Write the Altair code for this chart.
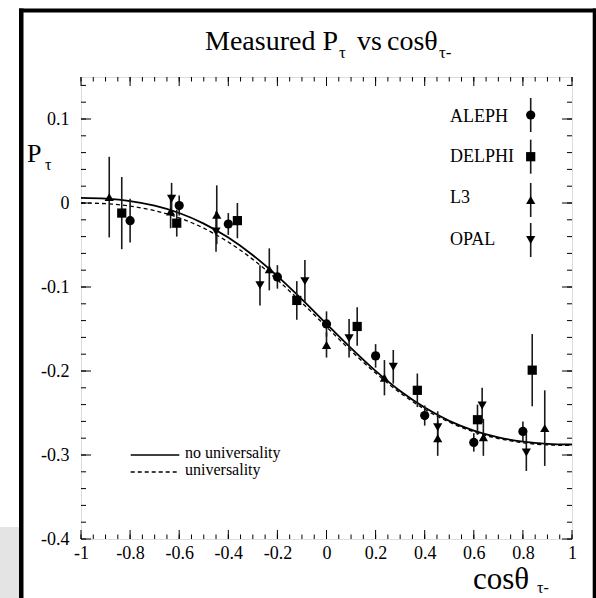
import altair as alt
import pandas as pd

# ---------------- data ----------------
experiments = ["ALEPH", "DELPHI", "L3", "OPAL"]
shapes = ["circle", "square", "triangle-up", "triangle-down"]

aleph_x = [-0.80, -0.60, -0.40, -0.20, 0.00, 0.20, 0.40, 0.60, 0.80]
aleph_y = [-0.021, -0.003, -0.025, -0.088, -0.144, -0.182, -0.253, -0.285, -0.272]
aleph_e = [0.026, 0.012, 0.013, 0.014, 0.015, 0.014, 0.012, 0.011, 0.012]

delphi_x = [-0.834, -0.610, -0.363, -0.121, 0.125, 0.370, 0.615, 0.838]
delphi_y = [-0.012, -0.024, -0.021, -0.116, -0.147, -0.223, -0.258, -0.199]
delphi_e = [0.043, 0.016, 0.021, 0.023, 0.023, 0.020, 0.018, 0.043]

l3_x = [-0.885, -0.635, -0.447, -0.233, 0.000, 0.236, 0.453, 0.639, 0.889]
l3_y = [0.007, -0.010, -0.014, -0.079, -0.169, -0.208, -0.280, -0.279, -0.268]
l3_e = [0.048, 0.020, 0.035, 0.025, 0.015, 0.021, 0.021, 0.022, 0.045]

opal_x = [-0.631, -0.450, -0.271, -0.088, 0.092, 0.272, 0.453, 0.634, 0.814]
opal_y = [0.005, -0.034, -0.098, -0.093, -0.161, -0.195, -0.267, -0.241, -0.297]
opal_e = [0.019, 0.024, 0.024, 0.025, 0.023, 0.020, 0.019, 0.021, 0.022]

curve_x = [-1.0, -0.9, -0.8, -0.7, -0.6, -0.5, -0.4, -0.3, -0.2, -0.1, 0.0,
           0.1, 0.2, 0.3, 0.4, 0.5, 0.6, 0.7, 0.8, 0.9, 1.0]
no_univ = [0.0060, 0.0051, 0.0023, -0.0032, -0.0119, -0.0245, -0.0412, -0.0622,
           -0.0870, -0.1147, -0.1439, -0.1728, -0.1999, -0.2238, -0.2435, -0.2593,
           -0.2709, -0.2790, -0.2841, -0.2867, -0.2875]
univ = [0.0000, -0.0008, -0.0037, -0.0091, -0.0177, -0.0300, -0.0465, -0.0671,
        -0.0915, -0.1188, -0.1475, -0.1760, -0.2025, -0.2260, -0.2455, -0.2610,
        -0.2724, -0.2804, -0.2854, -0.2880, -0.2887]

x_major = [-1, -0.8, -0.6, -0.4, -0.2, 0, 0.2, 0.4, 0.6, 0.8, 1]
y_major = [-0.4, -0.3, -0.2, -0.1, 0, 0.1]
x_minor = [round(-1 + 0.05 * i, 2) for i in range(41)]
y_minor = [round(-0.4 + 0.02 * i, 2) for i in range(28)]

# ---------------- tables ----------------
rows = []
for name, xs_, ys_, es_ in [("ALEPH", aleph_x, aleph_y, aleph_e),
                            ("DELPHI", delphi_x, delphi_y, delphi_e),
                            ("L3", l3_x, l3_y, l3_e),
                            ("OPAL", opal_x, opal_y, opal_e)]:
    for a, b, e in zip(xs_, ys_, es_):
        rows.append({"exp": name, "x": a, "y": b, "lo": b - e, "hi": b + e})
pts = pd.DataFrame(rows)
curves = pd.DataFrame({"c": curve_x, "nu": no_univ, "u": univ})
one = pd.DataFrame({"a": [0]})

W, H = 491, 462
SERIF = "Liberation Serif"
xs = alt.Scale(domain=[-1, 1], nice=False, zero=False)
ys = alt.Scale(domain=[-0.4, 0.15], nice=False, zero=False)
lab = "'' + round(datum.value*10)/10"
xaxis = alt.Axis(values=x_major, labelExpr=lab, tickSize=0, domain=False, grid=False,
                 labelPadding=5, labelFontSize=18, labelFont=SERIF, labelColor="black",
                 title=None, labelFlush=False)
yaxis = alt.Axis(values=y_major, labelExpr=lab, tickSize=0, domain=False, grid=False,
                 labelPadding=12, labelFontSize=18, labelFont=SERIF, labelColor="black",
                 title=None, labelFlush=False)


def X(f):
    return alt.X(f, scale=xs, axis=xaxis)


def Y(f):
    return alt.Y(f, scale=ys, axis=yaxis)


layers = []

# frame decorations (outer page frame)
def rect(x1, x2, y1, y2, color):
    return alt.Chart(one).mark_rect(color=color).encode(
        x=alt.value(x1), x2=alt.value(x2), y=alt.value(y1), y2=alt.value(y2))

layers += [
    rect(-81, -62, 450, 521, "#e4e4e4"),
    rect(-62, -57.5, -68.6, 521, "black"),
    rect(-62, 515, -68.6, -64.5, "black"),
    rect(511.7, 515, -68.6, 521, "black"),
]

# ticks (inward, all four sides)
xmaj = pd.DataFrame({"v": x_major})
xmin = pd.DataFrame({"v": x_minor})
ymaj = pd.DataFrame({"v": y_major})
ymin = pd.DataFrame({"v": y_minor})
tk = dict(color="black", strokeWidth=1)
layers += [
    alt.Chart(xmaj).mark_rule(**tk).encode(x=X("v:Q"), y=alt.value(H), y2=alt.value(H - 9)),
    alt.Chart(xmin).mark_rule(**tk).encode(x=X("v:Q"), y=alt.value(H), y2=alt.value(H - 4.5)),
    alt.Chart(xmaj).mark_rule(**tk).encode(x=X("v:Q"), y=alt.value(0), y2=alt.value(9)),
    alt.Chart(xmin).mark_rule(**tk).encode(x=X("v:Q"), y=alt.value(0), y2=alt.value(4.5)),
    alt.Chart(ymaj).mark_rule(**tk).encode(y=Y("v:Q"), x=alt.value(0), x2=alt.value(10)),
    alt.Chart(ymin).mark_rule(**tk).encode(y=Y("v:Q"), x=alt.value(0), x2=alt.value(5)),
    alt.Chart(ymaj).mark_rule(**tk).encode(y=Y("v:Q"), x=alt.value(W), x2=alt.value(W - 10)),
    alt.Chart(ymin).mark_rule(**tk).encode(y=Y("v:Q"), x=alt.value(W), x2=alt.value(W - 5)),
]

# curves
layers += [
    alt.Chart(curves).mark_line(color="black", strokeWidth=1.3, strokeDash=[4, 3],
                                interpolate="monotone").encode(x=X("c:Q"), y=Y("u:Q")),
    alt.Chart(curves).mark_line(color="black", strokeWidth=1.8,
                                interpolate="monotone").encode(x=X("c:Q"), y=Y("nu:Q")),
]

# error bars and markers
layers += [
    alt.Chart(pts).mark_rule(color="#1a1a1a", strokeWidth=1.6).encode(
        x=X("x:Q"), y=Y("lo:Q"), y2="hi:Q"),
    alt.Chart(pts).mark_point(filled=True, opacity=1, size=85, color="black").encode(
        x=X("x:Q"), y=Y("y:Q"),
        shape=alt.Shape("exp:N", scale=alt.Scale(domain=experiments, range=shapes), legend=None)),
]


def txt(s, x, y, size, align="left"):
    return alt.Chart(one).mark_text(text=s, font=SERIF, fontSize=size, align=align,
                                    baseline="alphabetic", color="black").encode(
        x=alt.value(x), y=alt.value(y))


# experiment legend (top right)
leg_label_y = [44.7, 84.7, 126.3, 168]
leg_mark_y = [38, 79.7, 123, 163]
for name, shp, ly, my in zip(experiments, shapes, leg_label_y, leg_mark_y):
    layers += [
        txt(name, 369, ly, 18),
        alt.Chart(one).mark_rule(color="#1a1a1a", strokeWidth=1.6).encode(
            x=alt.value(449.7), y=alt.value(my - 17), y2=alt.value(my + 17)),
        alt.Chart(one).mark_point(filled=True, opacity=1, size=85, color="black").encode(
            x=alt.value(449.7), y=alt.value(my), shape=alt.value(shp)),
    ]

# line legend (bottom left)
layers += [
    alt.Chart(one).mark_rule(color="black", strokeWidth=1.5).encode(
        x=alt.value(49.7), x2=alt.value(98.3), y=alt.value(378)),
    alt.Chart(one).mark_rule(color="black", strokeWidth=1.3, strokeDash=[4, 3]).encode(
        x=alt.value(49.7), x2=alt.value(98.3), y=alt.value(395)),
    txt("no universality", 104, 381.3, 16),
    txt("universality", 104, 398, 16),
]

# title and axis titles with subscripts
layers += [
    txt("Measured P", 124, -27, 28),
    txt("τ", 258, -19, 17),
    txt("vs", 276, -27, 28),
    txt("cosθ", 306, -27, 28),
    txt("τ-", 358, -19, 17),
    txt("P", -54, 84.7, 26),
    txt("τ", -36, 93, 16),
    txt("cosθ", 392, 512, 31),
    txt("τ-", 456, 516, 16),
]

chart = alt.layer(*layers).properties(
    width=W, height=H,
    autosize=alt.AutoSizeParams(type="none"),
    padding={"left": 81, "top": 77, "right": 24, "bottom": 59},
).configure_view(stroke="black", strokeWidth=1.2).configure(background="white")

chart.save("out.html", embed_options={"renderer": "svg", "actions": False})
